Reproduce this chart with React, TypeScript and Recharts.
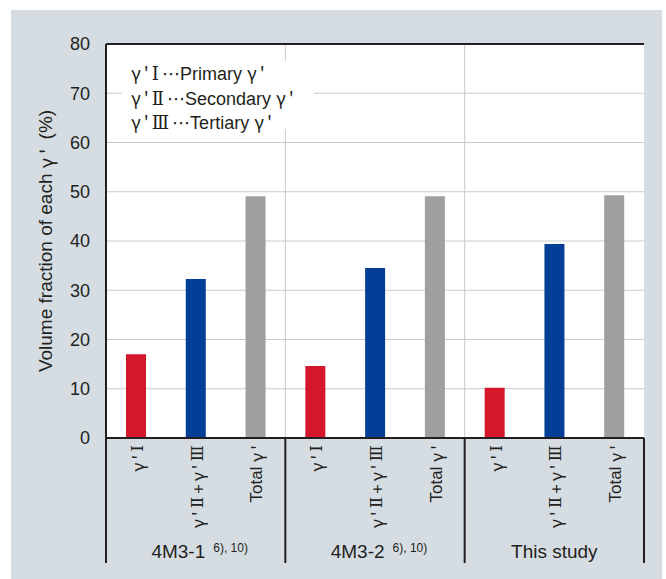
import { Bar, BarChart, CartesianGrid, Cell, ReferenceLine, XAxis, YAxis } from "recharts";

const groups = ["4M3-1", "4M3-2", "This study"];
const groupRefs = ["6), 10)", "6), 10)", ""];
const phaseLabels = ["γ'Ⅰ", "γ'Ⅱ+γ'Ⅲ", "Total γ'"];
const primary = [17.0, 14.6, 10.2];
const secondaryTertiary = [32.3, 34.5, 39.4];
const total = [49.1, 49.1, 49.3];
const yTicks = [0, 10, 20, 30, 40, 50, 60, 70, 80];
const legendLines = ["γ'Ⅰ⋯Primary γ'", "γ'Ⅱ⋯Secondary γ'", "γ'Ⅲ⋯Tertiary γ'"];

const colors = ["#d5172b", "#033f97", "#9f9f9f"];
const ink = "#231f20";
const latin = "'Liberation Sans', Arial, sans-serif";
const jp = "'Noto Sans CJK JP', sans-serif";
const roman = "'DejaVu Serif', 'Noto Sans CJK JP', serif";
const dots = "'DejaVu Sans', sans-serif";

const W = 666;
const H = 579;
const M = { top: 44, right: 22, left: 10, bottom: 16 };
const YW = 96;
const XH = 125;
const PLOT_W = W - M.left - YW - M.right;
const BAND = PLOT_W / 9;

const data = groups.flatMap((g, gi) =>
  [primary[gi], secondaryTertiary[gi], total[gi]].map((v, k) => ({
    key: `${gi}-${k}`,
    label: phaseLabels[k],
    group: gi,
    kind: k,
    value: v,
  }))
);

// the original sets γ, primes and roman numerals in a Japanese font, a bit wider than Latin
function fontFor(ch: string) {
  if (/[ⅠⅡⅢ]/.test(ch)) return roman;
  if (ch === "⋯") return dots;
  if (/[γ'+]/.test(ch)) return jp;
  return latin;
}

function runs(s: string, spacing: number) {
  const out: { t: string; f: string }[] = [];
  for (const ch of s) {
    const f = fontFor(ch);
    const last = out[out.length - 1];
    if (last && last.f === f) last.t += ch;
    else out.push({ t: ch, f });
  }
  return out.map((r, i) => (
    <tspan key={i} fontFamily={r.f} letterSpacing={r.f === latin ? 0 : spacing}>
      {r.t}
    </tspan>
  ));
}

function CategoryTick(props: any) {
  const { x, y, index } = props;
  const d = data[index];
  if (!d) return null;
  const axisY = y;
  const hasRef = !!groupRefs[d.group];
  return (
    <g>
      <text
        transform={`translate(${x + 1},${axisY + 4}) rotate(-90)`}
        textAnchor="end"
        dominantBaseline="central"
        fontSize={17}
        fill={ink}
      >
        {runs(d.label, 3)}
      </text>
      {index % 3 === 0 && (
        <line x1={x - BAND / 2} x2={x - BAND / 2} y1={axisY} y2={axisY + 125} stroke={ink} strokeWidth={2} />
      )}
      {index === data.length - 1 && (
        <line x1={x + BAND / 2} x2={x + BAND / 2} y1={axisY} y2={axisY + 125} stroke={ink} strokeWidth={2} />
      )}
      {index % 3 === 1 && (
        <text x={x + (hasRef ? 4 : 0)} y={axisY + 120} textAnchor="middle" fontSize={19} fill={ink} fontFamily={latin}>
          {groups[d.group]}
          {hasRef && (
            <tspan fontSize={12} dx={8} dy={-6}>
              {groupRefs[d.group]}
            </tspan>
          )}
        </text>
      )}
    </g>
  );
}

function YLabel(props: any) {
  const { viewBox } = props;
  const cx = viewBox.x + 35;
  const cy = viewBox.y + viewBox.height / 2;
  return (
    <text
      transform={`translate(${cx},${cy}) rotate(-90)`}
      textAnchor="middle"
      dominantBaseline="central"
      fontSize={19}
      fill={ink}
      fontFamily={latin}
    >
      {runs("Volume fraction of each γ' (%)", 4)}
    </text>
  );
}

export default function App() {
  return (
    <div style={{ position: "absolute", left: 0, top: 0, width: W, height: H, background: "#fff" }}>
      <div style={{ position: "absolute", left: 11, top: 10, width: 651, height: H - 10, background: "#d5dde3" }} />
      <div style={{ position: "absolute", left: 0, top: 0 }}>
        <BarChart width={W} height={H} data={data} margin={M}>
          <CartesianGrid
            stroke="#c6cad1"
            strokeWidth={1}
            fill="#fff"
            fillOpacity={1}
            verticalCoordinatesGenerator={({ offset }: any) => [
              offset.left + offset.width / 3,
              offset.left + (2 * offset.width) / 3,
            ]}
          />
          <XAxis
            dataKey="key"
            height={XH}
            interval={0}
            tickSize={0}
            tickMargin={0}
            tickLine={false}
            axisLine={{ stroke: ink, strokeWidth: 2 }}
            tick={<CategoryTick />}
          />
          <YAxis
            width={YW}
            domain={[0, 80]}
            ticks={yTicks}
            tickLine={false}
            tickSize={0}
            tickMargin={16}
            axisLine={{ stroke: ink, strokeWidth: 2 }}
            tick={{ fontSize: 18, fill: ink, fontFamily: latin }}
            label={<YLabel />}
          />
          <YAxis
            yAxisId="right"
            orientation="right"
            width={0}
            domain={[0, 80]}
            tick={false}
            tickLine={false}
            axisLine={{ stroke: ink, strokeWidth: 2 }}
          />
          <ReferenceLine y={80} stroke={ink} strokeWidth={2} />
          <Bar dataKey="value" barSize={20} isAnimationActive={false}>
            {data.map((d) => (
              <Cell key={d.key} fill={colors[d.kind]} />
            ))}
          </Bar>
        </BarChart>
      </div>
      <div
        style={{
          position: "absolute",
          left: 122,
          top: 61,
          width: 192,
          height: 68,
          background: "#fff",
          paddingLeft: 9,
          boxSizing: "border-box",
          fontSize: 18,
          lineHeight: "22.5px",
          color: ink,
          fontFamily: latin,
          whiteSpace: "nowrap",
        }}
      >
        {legendLines.map((l, i) => (
          <div key={i}>
            {[...l].map((ch, k) => {
              const f = fontFor(ch);
              return (
                <span key={k} style={{ fontFamily: f, letterSpacing: f === latin || f === dots ? 0 : 3 }}>
                  {ch}
                </span>
              );
            })}
          </div>
        ))}
      </div>
    </div>
  );
}
